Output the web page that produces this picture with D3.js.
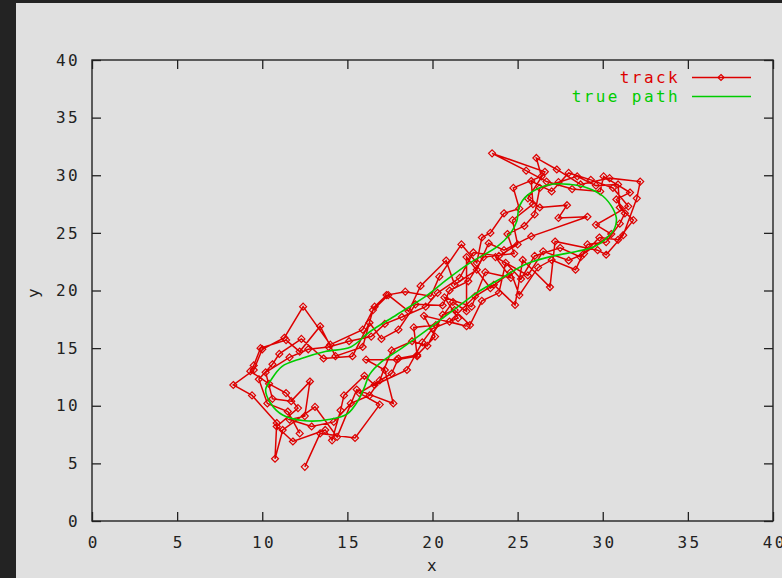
<!DOCTYPE html>
<html><head><meta charset="utf-8">
<script src="https://cdn.jsdelivr.net/npm/d3@7"></script>
<style>
html,body{margin:0;padding:0;background:#232323;overflow:hidden;}
svg{display:block;}
text{font-family:"DejaVu Sans Mono","Liberation Mono",monospace;font-size:16px;letter-spacing:2.4px;fill:#222;}
</style></head><body>
<svg id="c" width="782" height="578"></svg>
<script>
const xTicks = [0,5,10,15,20,25,30,35,40];
const yTicks = [0,5,10,15,20,25,30,35,40];
const seriesNames = ["track","true path"];
const axisLabels = ["x","y"];

// true path (closed loop)
const truePath = [
 [12.5,8.7],[13.9,8.8],[15.0,9.3],[15.65,10.5],[16.0,11.6],[16.3,12.7],[17.0,13.8],[18.2,15.0],
 [19.7,16.6],[21.4,18.5],[22.6,19.8],[24.2,21.2],[25.5,22.3],[27.1,23.0],[28.5,23.4],[29.5,23.8],
 [30.2,24.5],[30.7,25.4],[30.8,26.3],[30.6,27.1],[30.0,28.2],[29.1,28.9],[28.1,29.2],[26.9,29.2],
 [25.6,28.3],[25.1,27.3],[24.95,26.0],[24.6,25.0],[23.8,23.8],[22.2,22.4],[20.8,20.9],[19.7,19.6],
 [17.9,17.9],[16.3,16.4],[15.2,15.1],[13.7,14.7],[12.3,14.1],[11.15,13.4],[10.5,12.2],[10.2,11.4],
 [10.5,10.2],[11.2,9.2]
];

const track = [
 [12.5,4.7],[13.4,7.6],[15.45,7.2],[16.9,10.1],[15.7,11.1],[17.6,12.8],
 [18.0,14.1],[19.1,14.4],[20.15,16.0],[19.5,17.8],[22.0,16.9],[21.0,17.3],[22.5,19.5],[23.6,20.5],[24.85,18.75],[25.3,22.65],
 [26.9,20.3],[27.2,24.25],[29.7,23.5],[30.2,23.1],[31.2,24.8],
 [32.0,28.0],[32.2,29.45],[30.4,29.75],[28.7,29.2],[27.3,30.5],[26.1,31.5],[26.4,29.9],
 [24.75,28.9],[25.1,27.1],[24.2,26.7],[23.4,25.0],[22.9,24.6],
 [22.6,22.4],[21.7,24.0],[20.4,21.2],[19.9,19.5],[18.4,19.9],[17.3,19.6],[16.6,18.6],[15.9,16.6],[14.0,15.3],
 [12.4,18.6],[11.3,15.9],[10.0,14.9],[9.5,13.1],[8.3,11.8],[9.4,10.9],[10.85,8.5],[10.75,5.4],
 [11.2,7.9],[13.1,9.9],[14.4,7.3],[15.55,11.4],[17.7,10.2],[17.2,13.1],
 [16.1,14.0],[17.9,14.0],[19.1,14.3],[18.9,16.8],[20.2,17.0],[21.2,19.0],[22.0,18.2],[22.0,22.9],[23.4,20.2],[24.6,21.6],[25.1,19.6],
 [26.2,22.0],[27.0,22.65],[28.4,21.8],[29.1,24.0],[30.2,24.2],[31.0,25.8],
 [31.3,26.7],[30.8,27.9],[31.6,28.5],[30.05,29.9],[29.85,28.6],[28.2,28.8],[26.7,29.45],[25.5,30.4],[23.5,31.9],[26.6,30.3],
 [25.6,28.0],[26.3,27.2],[27.9,27.4],[27.4,26.3],[29.1,26.4],[25.8,24.7],[24.2,23.5],
 [23.3,24.1],[22.6,21.8],[21.3,20.5],[20.8,22.6],[19.3,20.4],[18.6,18.2],[17.4,19.6],[16.5,18.3],[15.9,15.1],[14.3,14.3],
 [13.4,16.9],[12.2,14.7],[11.4,15.7],[9.9,15.0],[9.5,13.5],[9.3,13.0],[10.4,11.9],[11.4,11.1],[12.1,9.8],[10.85,8.2],
 [11.8,6.9],[13.7,7.9],[14.1,7.0],[14.6,9.6],[14.8,10.9],[16.0,12.6],[16.6,11.8],
 [18.5,13.1],[19.4,15.5],[20.0,16.7],[21.5,17.6],[20.7,19.4],[22.3,18.6],[23.1,21.6],[24.6,21.1],[23.7,22.9],[25.6,21.3],
 [26.5,23.4],[28.0,22.6],[28.9,23.2],[30.5,24.9],[29.6,25.7],
 [31.5,27.3],[30.6,28.9],[29.3,29.6],[28.0,30.2],[27.0,28.6],[25.8,29.5],
 [25.9,27.5],[24.7,26.1],[25.0,24.0],[23.9,23.0],
 [22.4,23.3],[21.6,21.1],[20.3,19.8],[19.6,18.6],[18.2,17.7],[17.2,17.1],[16.4,16.0],[15.1,15.6],[13.9,15.1],
 [12.7,14.9],[11.6,14.2],[10.2,12.9],[10.6,10.6],[11.7,10.4],[12.8,12.1],[12.5,9.1],
 [11.6,8.8],[12.9,8.2],[14.2,8.6],[15.2,10.2],[16.3,10.9],[16.9,12.2],
 [17.6,14.8],[18.8,15.6],[19.7,15.2],[20.6,17.9],[21.3,18.3],[22.2,17.0],[22.9,19.1],[23.9,19.8],[24.3,22.4],[25.2,21.0],
 [26.0,23.0],[27.5,23.7],[28.7,22.9],[29.8,24.6],[30.9,24.4],
 [31.8,26.1],[31.0,27.2],[30.9,29.2],[29.6,29.1],[28.5,29.9],[27.4,29.4],[26.3,28.9],
 [26.0,26.6],[25.4,25.6],[24.4,24.9],[24.8,23.2],
 [23.0,22.9],[22.1,20.8],[21.0,20.0],[20.6,18.7],[19.0,18.8],[18.0,16.6],[17.0,15.8],[16.3,17.2],[15.3,14.3],[13.6,14.1],
 [12.3,15.8],[11.0,14.5],[10.6,13.6],[9.8,12.3],[10.3,10.2],[11.5,9.5],[12.2,7.6]
];

const RED = "#dd0000", GREEN = "#00cc00", INK = "#222";
const svg = d3.select("#c");
svg.append("rect").attr("x",16).attr("y",3).attr("width",766).attr("height",575).attr("fill","#e0e0e0");

const L=92, R=773, T=60, B=521;
const x = d3.scaleLinear().domain([0,40]).range([L,R]);
const y = d3.scaleLinear().domain([0,40]).range([B,T]);

// axes
const gx = svg.append("g").attr("transform",`translate(0,${B})`)
  .call(d3.axisBottom(x).tickValues(xTicks).tickSize(-9).tickPadding(16).tickFormat(d3.format("d")));
const gy = svg.append("g").attr("transform",`translate(${L},0)`)
  .call(d3.axisLeft(y).tickValues(yTicks).tickSize(-9).tickPadding(12).tickFormat(d3.format("d")));
const gt = svg.append("g").attr("transform",`translate(0,${T})`)
  .call(d3.axisTop(x).tickValues(xTicks).tickSize(-9).tickFormat(""));
const gr = svg.append("g").attr("transform",`translate(${R},0)`)
  .call(d3.axisRight(y).tickValues(yTicks).tickSize(-9).tickFormat(""));
[gx,gy,gt,gr].forEach(g=>{
  g.select(".domain").remove();
  g.selectAll("line").attr("stroke",INK).attr("stroke-width",1.3);
  g.selectAll("text").attr("fill",INK).attr("font-family",null).attr("font-size",null);
});
gx.selectAll("text").attr("dx","1.2");
svg.append("rect").attr("x",L).attr("y",T).attr("width",R-L).attr("height",B-T)
  .attr("fill","none").attr("stroke",INK).attr("stroke-width",1.4);

// axis titles
svg.append("text").attr("x",433).attr("y",571).attr("text-anchor","middle").text(axisLabels[0]);
svg.append("text").attr("transform","translate(39,292) rotate(-90)").attr("text-anchor","middle").text(axisLabels[1]);

// track
const line = d3.line().x(d=>x(d[0])).y(d=>y(d[1]));
svg.append("path").datum(track).attr("d",line).attr("fill","none").attr("stroke",RED).attr("stroke-width",1.5);
const diamond = r => `M0,${-r}L${r},0L0,${r}L${-r},0Z`;
svg.append("g").selectAll("path").data(track).join("path")
  .attr("transform",d=>`translate(${x(d[0])},${y(d[1])})`)
  .attr("d",diamond(3.5)).attr("fill","none").attr("stroke",RED).attr("stroke-width",1.2);

// true path
svg.append("path").datum(truePath)
  .attr("d",d3.line().x(d=>x(d[0])).y(d=>y(d[1])).curve(d3.curveCatmullRomClosed.alpha(0.5)))
  .attr("fill","none").attr("stroke",GREEN).attr("stroke-width",1.6);

// legend
const lg = svg.append("g");
lg.append("text").attr("x",680).attr("y",83).attr("text-anchor","end").style("fill",RED).text(seriesNames[0]);
lg.append("line").attr("x1",692).attr("x2",751).attr("y1",77.5).attr("y2",77.5).attr("stroke",RED).attr("stroke-width",1.5);
lg.append("path").attr("transform","translate(721,77.5)").attr("d",diamond(3)).attr("fill","none").attr("stroke",RED).attr("stroke-width",1.2);
lg.append("text").attr("x",680).attr("y",102).attr("text-anchor","end").style("fill",GREEN).text(seriesNames[1]);
lg.append("line").attr("x1",692).attr("x2",751).attr("y1",96.5).attr("y2",96.5).attr("stroke",GREEN).attr("stroke-width",1.6);
</script>
</body></html>
